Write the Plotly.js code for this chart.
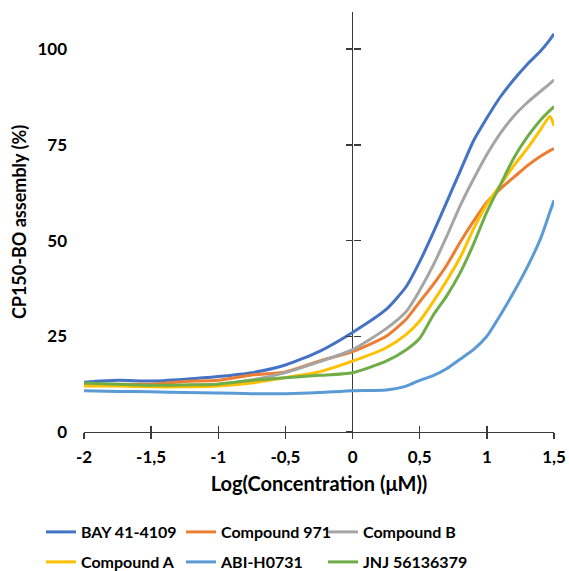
<!DOCTYPE html>
<html>
<head>
<meta charset="utf-8">
<script src="https://cdn.plot.ly/plotly-3.0.1.min.js"></script>
<style>html,body{margin:0;padding:0;background:#fff;}#chart{width:569px;height:571px;}</style>
</head>
<body>
<div id="chart"></div>
<script>
// Shared x positions: log10 concentration (µM)
const logConc = [-2, -1.75, -1.5, -1.25, -1, -0.75, -0.5, -0.25, 0, 0.25, 0.4, 0.5, 0.6, 0.7, 0.8, 0.9, 1.0, 1.1, 1.2, 1.3, 1.4, 1.47, 1.5];

const bay41_4109   = [13.0, 13.5, 13.3, 13.8, 14.5, 15.5, 17.5, 21.0, 26.0, 32.0, 38.0, 44.5, 52.0, 60.0, 68.0, 76.0, 82.0, 87.5, 92.0, 96.0, 99.5, 102.5, 104.0];
const compound971  = [12.3, 12.5, 12.5, 13.2, 13.5, 14.9, 15.7, 18.5, 21.0, 25.0, 29.5, 34.0, 38.5, 43.5, 49.5, 55.0, 60.0, 63.5, 66.5, 69.5, 72.0, 73.5, 74.0];
const compoundB    = [12.5, 12.3, 12.0, 12.2, 12.5, 13.6, 15.5, 18.3, 21.5, 27.0, 31.5, 37.0, 43.5, 51.0, 59.0, 66.0, 72.5, 78.0, 82.5, 86.0, 89.0, 91.0, 92.0];
const compoundA    = [12.0, 12.0, 11.8, 11.8, 12.0, 12.8, 14.2, 15.7, 18.5, 22.0, 25.5, 29.0, 34.0, 39.5, 45.5, 53.0, 59.5, 64.5, 69.5, 74.0, 79.0, 82.5, 80.0];
const abiH0731     = [10.8, 10.6, 10.5, 10.3, 10.2, 10.0, 10.0, 10.3, 10.8, 11.0, 12.0, 13.5, 14.7, 16.5, 19.0, 21.5, 25.0, 30.5, 36.5, 43.0, 50.5, 57.5, 60.5];
const jnj56136379  = [12.8, 12.5, 12.2, 12.3, 12.5, 13.5, 14.2, 14.8, 15.5, 18.5, 21.5, 24.5, 30.5, 35.5, 41.5, 49.0, 57.5, 64.5, 71.5, 77.0, 81.5, 84.0, 85.0];

const seriesNames = ["BAY 41-4109", "Compound 971", "Compound B", "Compound A", "ABI-H0731", "JNJ 56136379"];
const seriesValues = [bay41_4109, compound971, compoundB, compoundA, abiH0731, jnj56136379];
const seriesColors = ["#4472C4", "#ED7D31", "#A5A5A5", "#FFC000", "#5B9BD5", "#70AD47"];

const xTickVals = [-2, -1.5, -1, -0.5, 0, 0.5, 1, 1.5];
const xTickText = ["-2", "-1,5", "-1", "-0,5", "0", "0,5", "1", "1,5"];
const yTickVals = [0, 25, 50, 75, 100];
const yTickText = ["0", "25", "50", "75", "100"];

const xRange = [-2, 1.5];
const yRange = [0, 109.7];
const axisColor = "#3a3a3a";
const fam = "Lato, 'Open Sans', sans-serif";
const tickFont = {family: fam, size: 17, color: "#000", weight: "bold"};
const legendFont = {family: fam, size: 16, color: "#000", weight: "bold"};
const xTitleFont = {family: fam, size: 20, color: "#000", weight: "bold"};
const yTitleFont = {family: fam, size: 18, color: "#000", weight: "bold"};

// legend slot positions (px in the 569x571 page): 3 columns x 2 rows
const legendColX = [41, 181, 323];
const legendRowY = [532, 562];

const legendIds = ["legend", "legend2", "legend3", "legend4", "legend5", "legend6"];

const traces = seriesNames.map((n, i) => ({
  x: logConc, y: seriesValues[i], name: n, type: "scatter", mode: "lines",
  legend: legendIds[i],
  line: {color: seriesColors[i], width: 3, shape: "spline", smoothing: 0.6}
}));
// invisible carriers so the crossing tick-mark axes get drawn
traces.push({x: logConc, y: bay41_4109, xaxis: "x2", yaxis: "y2", mode: "lines", opacity: 0, showlegend: false, hoverinfo: "skip", line: {width: 0}});
traces.push({x: logConc, y: bay41_4109, xaxis: "x", yaxis: "y3", mode: "lines", opacity: 0, showlegend: false, hoverinfo: "skip", line: {width: 0}});

const layout = {
  width: 569, height: 571,
  margin: {l: 84, r: 15, t: 12, b: 139},
  paper_bgcolor: "#fff", plot_bgcolor: "#fff",
  font: tickFont,
  showlegend: true,
  xaxis: {
    range: xRange, tickmode: "array", tickvals: xTickVals, ticktext: xTickText,
    showgrid: false, showline: true, linecolor: axisColor, linewidth: 1.3,
    ticks: "outside", ticklen: 6, tickcolor: axisColor, tickwidth: 1.3,
    zeroline: true, zerolinecolor: axisColor, zerolinewidth: 1.3,
    tickfont: tickFont, ticklabelstandoff: 3, automargin: false,
    title: {text: "Log(Concentration (μM))", font: xTitleFont, standoff: 11}
  },
  xaxis2: {
    overlaying: "x", anchor: "y", range: xRange, tickmode: "array", tickvals: xTickVals,
    showticklabels: false, showgrid: false, zeroline: false, showline: false,
    ticks: "inside", ticklen: 6, tickcolor: axisColor, tickwidth: 1.3, automargin: false
  },
  yaxis: {
    range: yRange, tickmode: "array", tickvals: yTickVals, ticktext: yTickText,
    showgrid: false, showline: false, zeroline: false, ticks: "",
    tickfont: tickFont, ticklabelstandoff: 16, automargin: false,
    title: {text: "CP150-BO assembly (%)", font: yTitleFont, standoff: 6}
  },
  yaxis2: {
    overlaying: "y", anchor: "free", position: 2 / 3.5, side: "left",
    range: yRange, tickmode: "array", tickvals: yTickVals,
    showticklabels: false, showgrid: false, zeroline: false, showline: false,
    ticks: "outside", ticklen: 7, tickcolor: axisColor, tickwidth: 1.3, automargin: false
  },
  yaxis3: {
    overlaying: "y", anchor: "free", position: 2 / 3.5, side: "left",
    range: yRange, tickmode: "array", tickvals: yTickVals,
    showticklabels: false, showgrid: false, zeroline: false, showline: false,
    ticks: "inside", ticklen: 7, tickcolor: axisColor, tickwidth: 1.3, automargin: false
  }
};

legendIds.forEach((id, i) => {
  layout[id] = {
    orientation: "h", xref: "container", yref: "container", xanchor: "left", yanchor: "middle",
    x: legendColX[i % 3] / 569, y: 1 - legendRowY[Math.floor(i / 3)] / 571,
    font: legendFont, itemwidth: 30, bgcolor: "rgba(0,0,0,0)", borderwidth: 0
  };
});

Plotly.newPlot("chart", traces, layout, {staticPlot: true, displayModeBar: false});
</script>
</body>
</html>
